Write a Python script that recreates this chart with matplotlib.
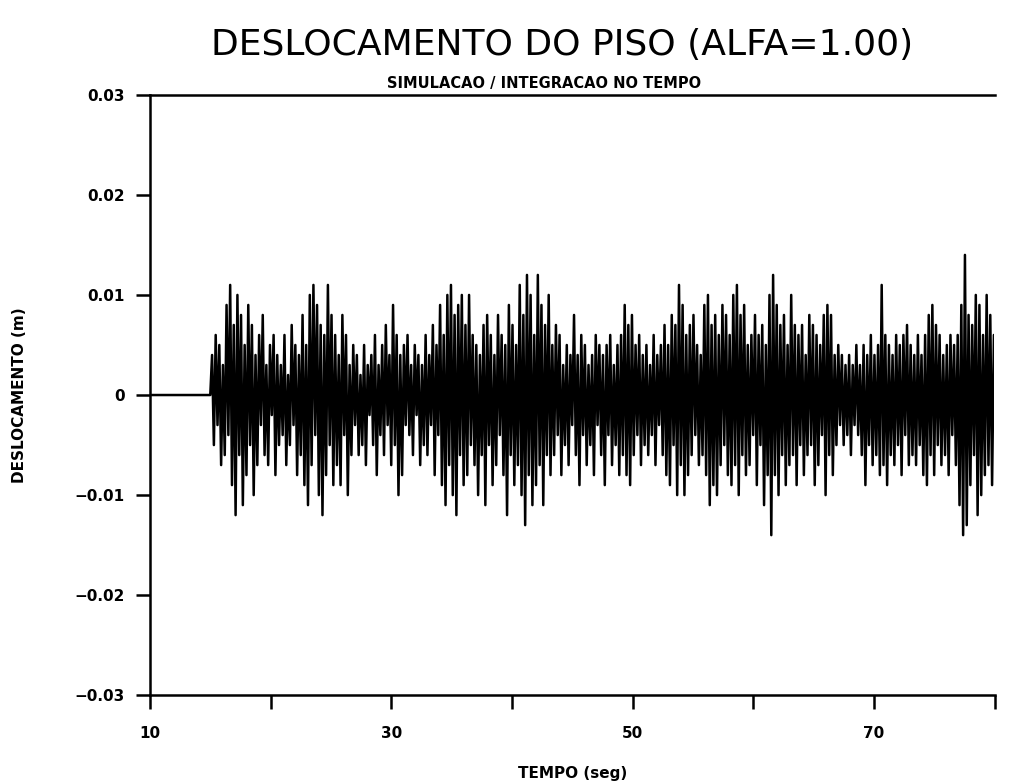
#deslocamento do piso - simulacao / integracao no tempo
import numpy as np
import matplotlib
matplotlib.use("Agg")
import matplotlib.pyplot as plt

# signal, in mm, one sample every 0.15 s starting at t = 15 s
dt = 0.15
t_inicio = 15.0
desl_mm = [
    0, 4, -5, 6, -3, 5, -7, 3, -6, 9,
    -4, 11, -9, 7, -12, 10, -6, 8, -11, 5,
    -8, 9, -5, 7, -10, 4, -7, 6, -3, 8,
    -6, 3, -7, 5, -2, 6, -8, 4, -5, 3,
    -4, 6, -7, 2, -5, 7, -3, 5, -8, 4,
    -6, 8, -9, 5, -11, 10, -7, 11, -4, 9,
    -10, 7, -12, 6, -8, 11, -5, 8, -9, 6,
    -7, 4, -9, 8, -4, 6, -10, 3, -6, 5,
    -3, 4, -6, 2, -5, 5, -7, 3, -2, 4,
    -5, 6, -8, 3, -4, 5, -6, 7, -3, 4,
    -7, 9, -5, 6, -10, 4, -8, 5, -3, 6,
    -4, 3, -6, 5, -2, 4, -7, 3, -5, 6,
    -6, 4, -3, 7, -8, 5, -4, 9, -9, 6,
    -11, 10, -7, 11, -10, 8, -12, 9, -6, 10,
    -9, 7, -8, 10, -5, 6, -7, 5, -10, 4,
    -6, 7, -11, 8, -5, 6, -9, 4, -7, 8,
    -4, 6, -8, 5, -12, 9, -6, 7, -9, 5,
    -7, 11, -10, 8, -13, 12, -8, 10, -11, 6,
    -9, 12, -7, 9, -11, 7, -6, 10, -8, 5,
    -6, 7, -4, 6, -8, 3, -5, 5, -7, 4,
    -3, 8, -6, 4, -9, 6, -4, 5, -7, 3,
    -5, 4, -8, 6, -3, 5, -6, 4, -9, 5,
    -4, 6, -7, 3, -5, 5, -8, 6, -6, 9,
    -8, 7, -9, 8, -6, 5, -4, 6, -7, 4,
    -5, 5, -6, 3, -4, 6, -7, 4, -3, 5,
    -6, 7, -8, 5, -9, 8, -5, 7, -10, 11,
    -7, 9, -10, 6, -8, 7, -6, 8, -4, 5,
    -7, 4, -6, 9, -8, 10, -11, 7, -9, 8,
    -10, 6, -7, 9, -5, 8, -8, 6, -9, 10,
    -7, 11, -10, 8, -6, 9, -8, 5, -7, 6,
    -4, 8, -9, 6, -5, 7, -11, 5, -8, 10,
    -14, 12, -8, 9, -10, 7, -6, 8, -9, 5,
    -7, 10, -6, 7, -9, 6, -5, 7, -8, 4,
    -6, 8, -5, 7, -9, 6, -7, 5, -4, 8,
    -10, 9, -6, 8, -8, 4, -5, 5, -3, 4,
    -5, 3, -4, 4, -6, 3, -3, 5, -4, 3,
    -6, 5, -9, 4, -5, 6, -7, 4, -6, 5,
    -8, 11, -7, 6, -9, 5, -6, 4, -7, 6,
    -5, 5, -8, 6, -4, 7, -7, 5, -6, 4,
    -7, 6, -5, 4, -8, 6, -9, 8, -6, 9,
    -8, 7, -5, 6, -7, 4, -6, 5, -8, 6,
    -4, 5, -7, 6, -11, 9, -14, 14, -13, 8,
    -9, 7, -6, 10, -12, 9, -10, 6, -8, 10,
    -7, 8, -9, 6, -5, 7, -6, 5, -4, 6,
]

x_ticks = [10, 20, 30, 40, 50, 60, 70, 80]
x_labels = ["10", "", "30", "", "50", "", "70", ""]
y_ticks = [-0.03, -0.02, -0.01, 0, 0.01, 0.02, 0.03]
y_labels = ["\u22120.03", "\u22120.02", "\u22120.01", "0", "0.01", "0.02", "0.03"]

tempo = np.concatenate([[10.0], t_inicio + dt * np.arange(len(desl_mm))])
desl = np.concatenate([[0.0], np.array(desl_mm) / 1000.0])

fig = plt.figure(figsize=(10.2, 7.83), dpi=100)
ax = fig.add_axes([0.147, 0.112, 0.828, 0.767])

ax.plot(tempo, desl, color="black", linewidth=1.8)

ax.set_xlim(10, 80)
ax.set_ylim(-0.03, 0.03)
ax.spines["right"].set_visible(False)
for s in ["left", "bottom", "top"]:
    ax.spines[s].set_linewidth(1.8)

ax.set_xticks(x_ticks)
ax.set_xticklabels(x_labels, fontsize=11, fontweight="bold")
ax.set_yticks(y_ticks)
ax.set_yticklabels(y_labels, fontsize=11, fontweight="bold")
ax.tick_params(axis="both", direction="out", length=10, width=1.8)
ax.tick_params(axis="x", pad=12)
ax.tick_params(axis="y", pad=8)

ax.set_xlabel("TEMPO (seg)", fontsize=11, fontweight="bold", labelpad=18)
ax.set_ylabel("DESLOCAMENTO (m)", fontsize=11, fontweight="bold", labelpad=34)

fig.text(0.551, 0.943, "DESLOCAMENTO DO PISO (ALFA=1.00)", fontsize=26,
         ha="center", va="center")
fig.text(0.533, 0.893, "SIMULACAO / INTEGRACAO NO TEMPO", fontsize=10.5,
         fontweight="bold", ha="center", va="center")

fig.savefig("out.png", dpi=100)
